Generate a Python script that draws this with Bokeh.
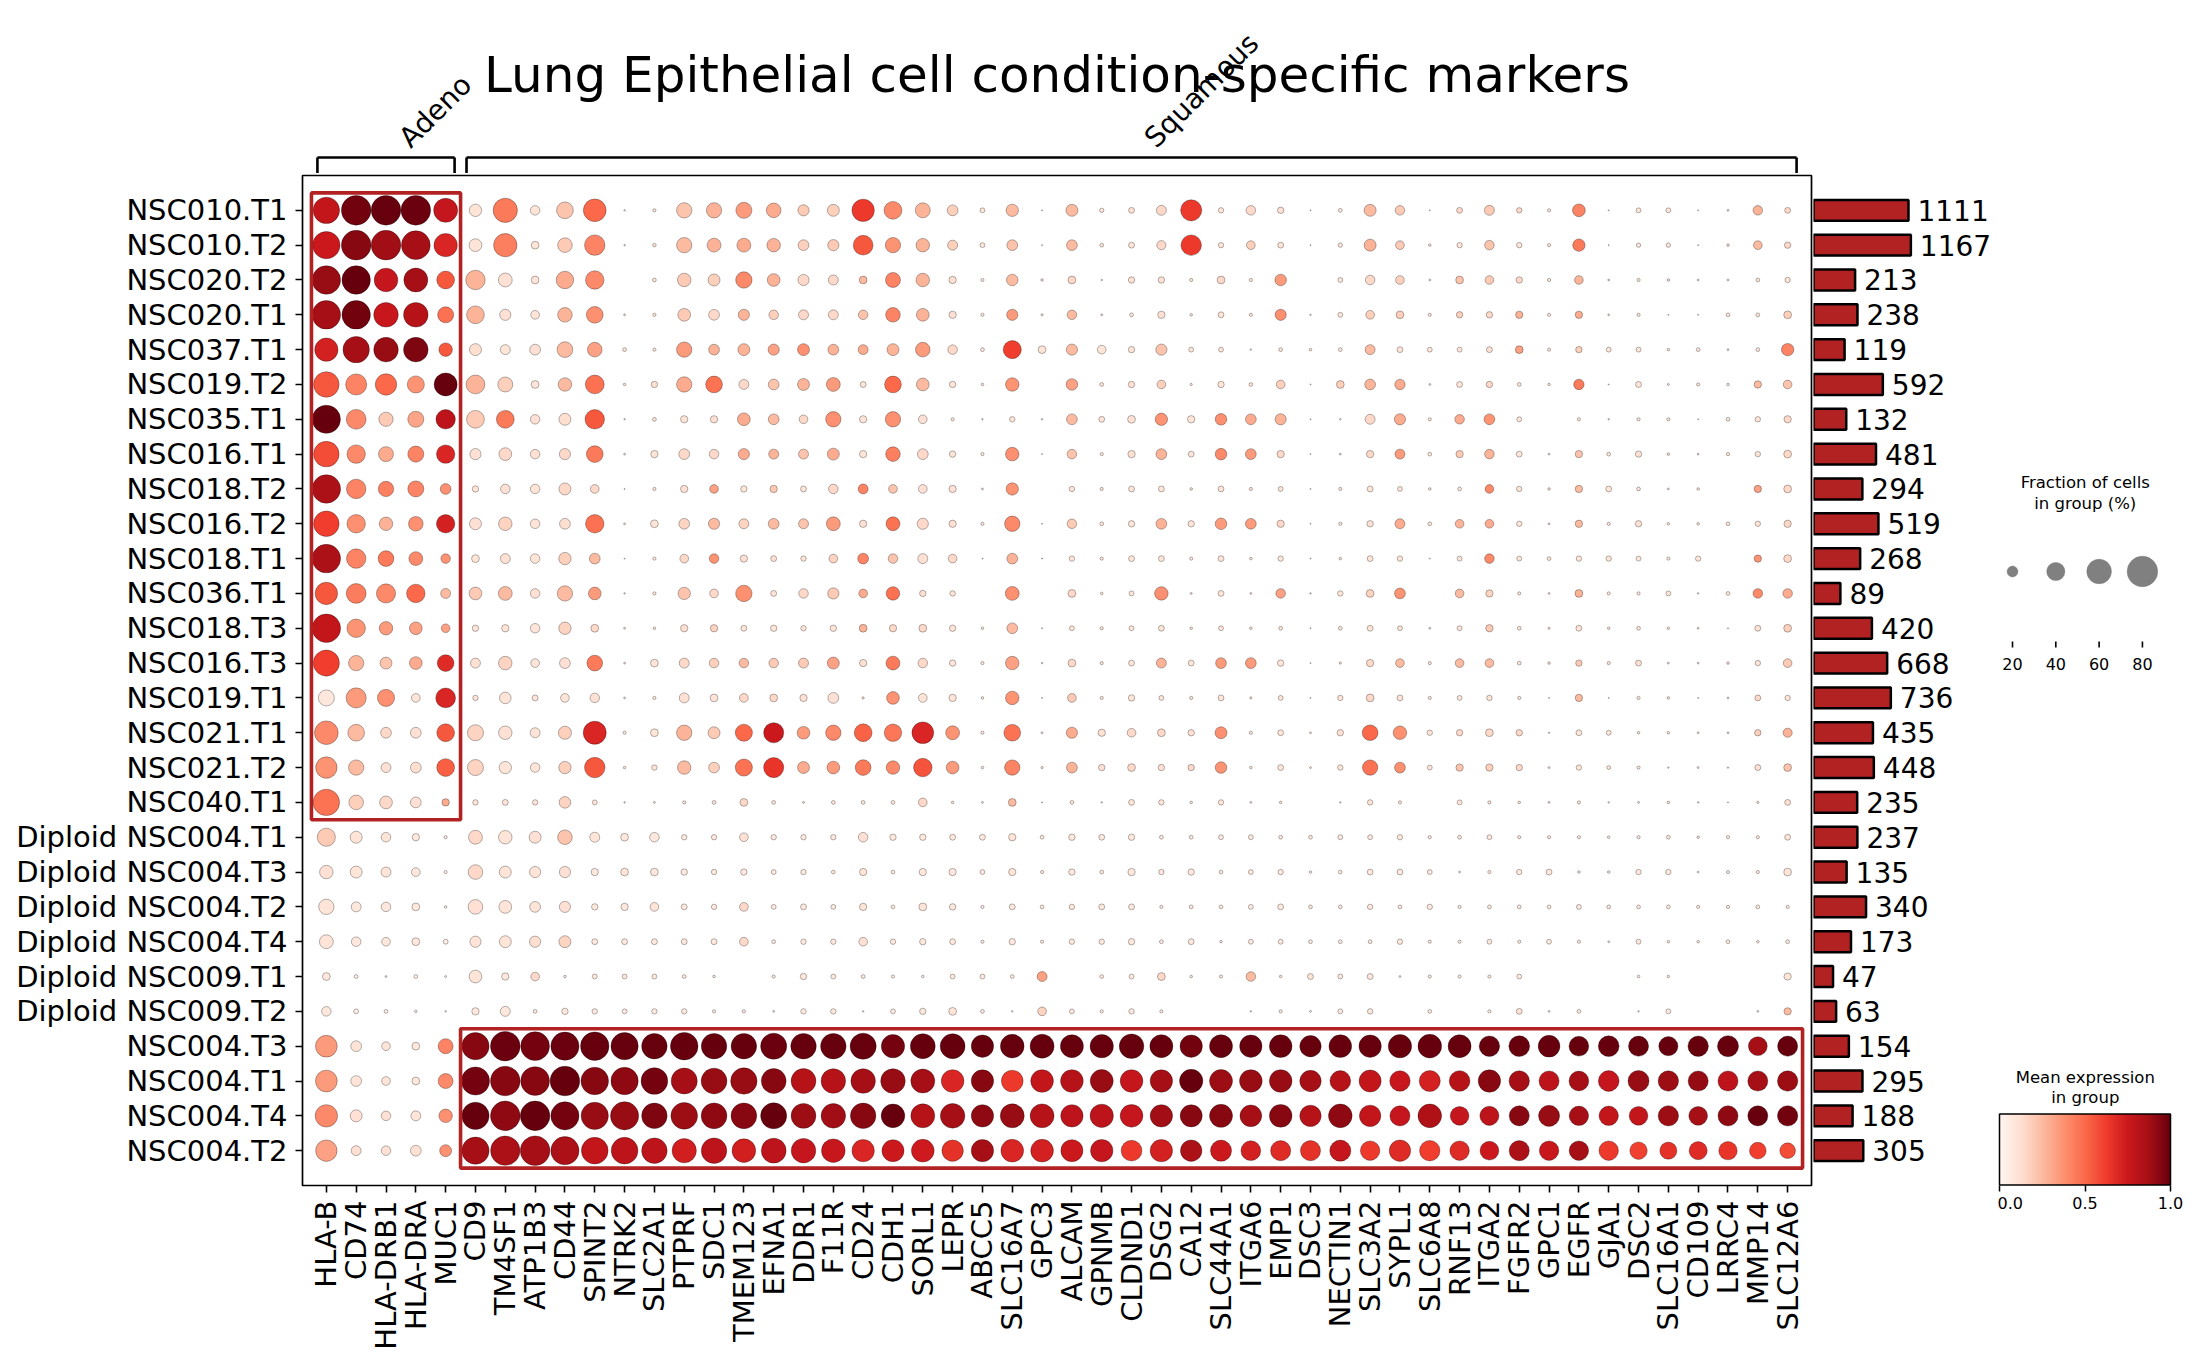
import math
import numpy as np
from bokeh.plotting import figure
from bokeh.layouts import column, row
from bokeh.models import (ColumnDataSource, Range1d, FixedTicker, LinearColorMapper,
                          ColorBar, PrintfTickFormatter)
from bokeh.transform import transform
from bokeh.core.properties import value
from bokeh.palettes import Reds9
from bokeh.embed import file_html
from bokeh.resources import INLINE

FONT = "DejaVu Sans"

title = "Lung Epithelial cell condition-specific markers"

adeno_genes = ["HLA-B", "CD74", "HLA-DRB1", "HLA-DRA", "MUC1"]
squamous_genes = ["CD9", "TM4SF1", "ATP1B3", "CD44", "SPINT2", "NTRK2", "SLC2A1", "PTPRF",
                  "SDC1", "TMEM123", "EFNA1", "DDR1", "F11R", "CD24", "CDH1", "SORL1", "LEPR",
                  "ABCC5", "SLC16A7", "GPC3", "ALCAM", "GPNMB", "CLDND1", "DSG2", "CA12",
                  "SLC44A1", "ITGA6", "EMP1", "DSC3", "NECTIN1", "SLC3A2", "SYPL1", "SLC6A8",
                  "RNF13", "ITGA2", "FGFR2", "GPC1", "EGFR", "GJA1", "DSC2", "SLC16A1", "CD109",
                  "LRRC4", "MMP14", "SLC12A6"]

groups = ["NSC010.T1", "NSC010.T2", "NSC020.T2", "NSC020.T1", "NSC037.T1", "NSC019.T2",
          "NSC035.T1", "NSC016.T1", "NSC018.T2", "NSC016.T2", "NSC018.T1", "NSC036.T1",
          "NSC018.T3", "NSC016.T3", "NSC019.T1", "NSC021.T1", "NSC021.T2", "NSC040.T1",
          "Diploid NSC004.T1", "Diploid NSC004.T3", "Diploid NSC004.T2", "Diploid NSC004.T4",
          "Diploid NSC009.T1", "Diploid NSC009.T2", "NSC004.T3", "NSC004.T1", "NSC004.T4",
          "NSC004.T2"]

cell_counts = [1111, 1167, 213, 238, 119, 592, 132, 481, 294, 519, 268, 89, 420, 668, 736,
               435, 448, 235, 237, 135, 340, 173, 47, 63, 154, 295, 188, 305]

# fraction of cells (%) expressing, one row per group
frac_adeno = [
    [66, 77, 77, 77, 58], [69, 77, 77, 74, 56], [73, 73, 57, 58, 39], [73, 73, 60, 60, 34],
    [56, 66, 60, 60, 27], [63, 49, 50, 37, 55], [72, 45, 29, 34, 44], [63, 41, 31, 34, 41],
    [73, 44, 32, 34, 20], [63, 41, 27, 30, 41], [73, 44, 33, 28, 17], [53, 45, 43, 41, 18],
    [73, 41, 27, 25, 15], [65, 32, 23, 25, 36], [34, 46, 37, 15, 45], [57, 36, 20, 20, 39],
    [50, 32, 18, 20, 39], [66, 30, 25, 20, 12], [40, 23, 17, 12, 4], [27, 23, 18, 15, 4],
    [32, 18, 17, 13, 3], [28, 17, 15, 13, 7], [13, 5, 2, 5, 2], [17, 7, 5, 3, 1.5],
    [51, 20, 15, 13, 31], [51, 20, 15, 13, 31], [53, 23, 17, 18, 27], [50, 18, 17, 20, 23],
]

frac_squamous = [
    [24, 59, 17, 36, 54, 1.5, 4, 32, 32, 34, 30, 21, 23, 53, 39, 31, 20, 7, 24, 1, 23, 6, 9, 18, 49, 8, 17, 10, 1, 5, 23, 17, 1, 9, 18, 8, 4, 25, 1, 7, 7, 1, 2, 17, 9],
    [25, 56, 13, 30, 47, 1.5, 4.5, 32, 28, 28, 27, 20, 21, 45, 32, 27, 18, 7, 20, 1, 20, 5, 9, 16, 47, 8, 15, 9, 1, 6, 23, 15, 3, 8, 17, 8, 4, 24, 1, 6, 6, 1, 3, 15, 10],
    [44, 28, 13, 38, 41, 0, 5, 27, 23, 35, 25, 21, 18, 13, 31, 27, 12, 4, 22, 3, 13, 1.5, 10, 10, 4, 13, 4, 22, 0, 7, 17, 15, 2, 13, 15, 10, 4, 15, 2, 4, 3, 2, 2, 5, 8],
    [39, 21, 15, 30, 36, 2, 4, 25, 20, 21, 17, 18, 18, 17, 30, 25, 12, 4, 21, 2.5, 17, 2, 5, 12, 3, 9, 4, 21, 1.5, 7, 15, 13, 4, 10, 10, 12, 4, 12, 2, 4, 1, 1, 5, 5, 13],
    [23, 18, 20, 33, 30, 5, 4, 32, 20, 23, 21, 23, 20, 18, 23, 30, 17, 5, 40, 13, 21, 15, 10, 21, 7, 7, 1.5, 5, 3, 5, 18, 9, 7, 7, 9, 13, 4, 10, 7, 7, 3, 5, 2, 5, 24],
    [42, 31, 13, 27, 42, 3, 10, 32, 36, 18, 20, 23, 28, 9, 36, 25, 10, 3, 27, 0, 22, 5, 10, 15, 2.5, 10, 5, 15, 1, 13, 20, 19, 2, 9, 10, 5, 3, 19, 1, 9, 2, 4, 3, 12, 15],
    [39, 39, 17, 23, 44, 1.5, 5, 12, 12, 25, 20, 15, 32, 12, 32, 15, 4, 1.5, 8, 1.5, 20, 9, 13, 24, 12, 22, 20, 21, 1, 1.5, 18, 21, 4, 17, 20, 7, 0, 4, 1.5, 4, 4, 1, 5, 8, 12],
    [21, 25, 17, 21, 36, 2, 12, 20, 17, 21, 18, 18, 23, 12, 30, 20, 10, 4, 27, 1, 17, 4, 12, 20, 9, 22, 20, 12, 1, 2, 12, 18, 5, 12, 17, 9, 2, 12, 5, 10, 3, 2, 4, 8, 13],
    [10, 17, 17, 23, 15, 1, 4, 12, 15, 10, 12, 9, 17, 18, 15, 15, 12, 2, 24, 0, 8, 4, 9, 9, 3, 9, 4, 7, 1, 4, 9, 7, 3, 5, 15, 8, 3, 12, 9, 5, 2, 3, 0, 12, 13],
    [23, 27, 17, 20, 41, 2, 13, 20, 21, 18, 20, 18, 28, 12, 28, 21, 12, 4, 32, 1, 17, 5, 10, 20, 10, 22, 20, 12, 1, 4, 10, 18, 5, 15, 15, 8, 2, 12, 4, 10, 3, 3, 5, 8, 12],
    [13, 18, 17, 24, 20, 1, 4, 15, 17, 12, 9, 8, 15, 20, 17, 18, 15, 1, 20, 1, 8, 4, 9, 9, 4, 9, 3, 8, 1, 3, 9, 8, 1, 7, 17, 7, 5, 8, 8, 7, 4, 8, 0, 12, 13],
    [25, 28, 17, 32, 25, 1.5, 4, 24, 15, 35, 9, 17, 21, 15, 27, 10, 8, 0, 28, 0, 13, 3, 7, 27, 2, 9, 2, 17, 1.5, 8, 13, 20, 0, 15, 12, 4, 2, 13, 4, 4, 7, 1.5, 5, 17, 17],
    [10, 12, 17, 24, 13, 2, 3, 12, 12, 9, 10, 8, 10, 13, 12, 13, 10, 3, 20, 1, 7, 4, 7, 9, 3, 7, 3, 5, 1, 5, 9, 7, 2, 7, 12, 5, 2.5, 9, 3, 5, 3, 2, 1, 9, 13],
    [18, 27, 15, 20, 33, 2, 13, 18, 17, 17, 17, 18, 23, 12, 28, 17, 10, 4, 27, 1.5, 13, 4, 9, 18, 9, 20, 20, 10, 1, 2.5, 12, 15, 4, 15, 15, 5, 3, 10, 4, 9, 2, 2, 3, 8, 15],
    [8, 22, 9, 15, 17, 2, 4, 18, 13, 15, 13, 12, 20, 2.5, 25, 15, 12, 3, 27, 1, 15, 4, 10, 7, 4, 9, 2.5, 7, 1, 8, 13, 9, 4, 7, 8, 4, 1, 12, 1, 4, 3, 1, 2, 9, 8],
    [34, 27, 18, 26, 55, 4, 13, 32, 23, 37, 46, 25, 32, 39, 38, 51, 28, 4, 36, 2, 21, 12, 15, 13, 10, 23, 4, 9, 2, 10, 33, 27, 8, 10, 13, 10, 1.5, 9, 7, 3, 3, 2, 2, 10, 16],
    [34, 24, 17, 24, 47, 3, 8, 27, 20, 37, 46, 23, 25, 33, 27, 41, 25, 3, 32, 2.5, 20, 10, 13, 10, 10, 22, 3, 9, 2, 8, 32, 20, 7, 12, 12, 10, 2, 8, 5, 4, 1.5, 2, 1.5, 9, 13],
    [8, 9, 8, 22, 7, 1.5, 2, 4, 5, 13, 5, 2, 5, 5, 5, 15, 3, 2, 13, 1, 5, 1.5, 9, 8, 3, 8, 2, 3, 0, 1.5, 8, 4, 0, 7, 4, 3, 2, 4, 1.5, 2, 3, 1.5, 1, 2.5, 9],
    [28, 27, 23, 30, 18, 13, 17, 8, 8, 15, 8, 8, 8, 17, 10, 10, 9, 9, 12, 5, 10, 9, 10, 5, 5, 7, 7, 5, 5, 7, 7, 8, 4, 5, 7, 4, 4, 4, 3, 4, 5, 3, 4, 4, 9],
    [30, 23, 21, 21, 12, 13, 13, 10, 8, 10, 7, 8, 5, 12, 5, 12, 12, 7, 12, 4, 10, 5, 12, 8, 10, 5, 7, 8, 3, 5, 9, 9, 7, 2, 4, 8, 9, 3, 3, 8, 8, 2, 4, 4, 13],
    [30, 25, 20, 21, 10, 12, 15, 9, 8, 15, 7, 9, 7, 12, 5, 13, 10, 4, 9, 5, 8, 9, 9, 4, 5, 5, 7, 9, 5, 5, 8, 5, 8, 4, 5, 5, 5, 7, 5, 5, 5, 4, 4, 5, 4],
    [21, 23, 21, 23, 9, 9, 9, 9, 9, 15, 5, 8, 8, 15, 8, 10, 9, 4, 10, 4, 8, 8, 10, 5, 9, 3, 7, 7, 5, 5, 5, 8, 4, 4, 7, 4, 7, 4, 2, 7, 3, 3, 5, 3, 5],
    [25, 12, 15, 3, 7, 7, 7, 5, 3, 0, 4, 10, 7, 5, 4, 3, 7, 7, 5, 18, 0, 5, 7, 13, 3, 4, 17, 3, 9, 7, 9, 2, 4, 4, 4, 7, 0, 0, 0, 3, 3, 0, 0, 0, 12],
    [12, 18, 5, 10, 8, 7, 8, 8, 4, 4, 2, 8, 8, 1.5, 7, 10, 13, 5, 1.5, 15, 7, 4, 8, 4, 0, 0, 1.5, 4, 2, 7, 8, 0, 5, 0, 4, 9, 2, 5, 0, 1.5, 7, 0, 0, 2, 12],
    [69, 77, 74, 72, 73, 69, 63, 70, 63, 63, 65, 63, 63, 65, 56, 61, 61, 53, 57, 58, 55, 56, 60, 55, 53, 55, 53, 54, 50, 54, 53, 56, 57, 55, 47, 48, 51, 45, 48, 46, 43, 47, 49, 42, 46],
    [72, 77, 74, 77, 70, 69, 67, 65, 64, 66, 61, 61, 60, 60, 60, 58, 54, 53, 51, 54, 54, 55, 54, 53, 56, 55, 54, 54, 50, 48, 52, 47, 49, 48, 53, 47, 46, 45, 48, 49, 47, 46, 46, 46, 47],
    [69, 77, 77, 72, 69, 72, 63, 67, 64, 64, 65, 61, 60, 63, 57, 58, 60, 53, 58, 58, 53, 56, 54, 53, 52, 55, 51, 54, 50, 57, 50, 46, 57, 42, 43, 46, 49, 44, 44, 42, 47, 42, 46, 46, 47],
    [69, 76, 77, 72, 67, 67, 63, 59, 63, 57, 61, 60, 57, 53, 52, 54, 50, 53, 54, 54, 52, 53, 48, 53, 50, 49, 45, 46, 46, 49, 44, 50, 47, 44, 42, 46, 44, 44, 44, 38, 37, 40, 41, 36, 33],
]

# mean expression in group (scaled 0-1 per gene)
expr_adeno = [
    [0.78, 0.98, 1.0, 0.99, 0.77], [0.75, 0.93, 0.88, 0.87, 0.70], [0.90, 1.0, 0.77, 0.87, 0.55],
    [0.87, 0.98, 0.76, 0.82, 0.48], [0.72, 0.87, 0.90, 0.95, 0.55], [0.55, 0.42, 0.50, 0.37, 1.0],
    [1.0, 0.40, 0.20, 0.32, 0.80], [0.58, 0.40, 0.30, 0.42, 0.70], [0.85, 0.42, 0.43, 0.42, 0.38],
    [0.62, 0.38, 0.28, 0.38, 0.72], [0.85, 0.42, 0.45, 0.40, 0.37], [0.55, 0.44, 0.40, 0.50, 0.25],
    [0.78, 0.37, 0.35, 0.33, 0.33], [0.62, 0.27, 0.22, 0.30, 0.68], [0.08, 0.35, 0.38, 0.10, 0.70],
    [0.40, 0.25, 0.15, 0.12, 0.55], [0.37, 0.25, 0.12, 0.13, 0.53], [0.47, 0.18, 0.15, 0.12, 0.30],
    [0.20, 0.10, 0.10, 0.08, 0.05], [0.12, 0.10, 0.10, 0.08, 0.05], [0.10, 0.08, 0.08, 0.08, 0.05],
    [0.10, 0.08, 0.08, 0.08, 0.05], [0.08, 0.05, 0.05, 0.05, 0.05], [0.08, 0.05, 0.05, 0.05, 0.05],
    [0.35, 0.10, 0.10, 0.08, 0.42], [0.35, 0.10, 0.10, 0.08, 0.40], [0.40, 0.12, 0.12, 0.10, 0.38],
    [0.33, 0.12, 0.12, 0.12, 0.38],
]

expr_squamous = [
    [0.10, 0.45, 0.10, 0.22, 0.50, 0.10, 0.10, 0.22, 0.28, 0.35, 0.30, 0.20, 0.18, 0.63, 0.40, 0.27, 0.18, 0.10, 0.25, 0.10, 0.25, 0.10, 0.12, 0.15, 0.63, 0.10, 0.15, 0.12, 0.10, 0.10, 0.25, 0.20, 0.10, 0.15, 0.20, 0.15, 0.10, 0.42, 0.10, 0.10, 0.10, 0.10, 0.10, 0.28, 0.15],
    [0.10, 0.43, 0.10, 0.20, 0.42, 0.10, 0.10, 0.25, 0.28, 0.30, 0.28, 0.18, 0.20, 0.55, 0.37, 0.27, 0.18, 0.10, 0.23, 0.10, 0.25, 0.10, 0.10, 0.15, 0.63, 0.10, 0.18, 0.10, 0.10, 0.10, 0.28, 0.20, 0.10, 0.10, 0.22, 0.10, 0.10, 0.45, 0.10, 0.10, 0.10, 0.10, 0.10, 0.25, 0.15],
    [0.27, 0.12, 0.10, 0.30, 0.40, 0.00, 0.10, 0.20, 0.18, 0.40, 0.28, 0.15, 0.15, 0.25, 0.42, 0.27, 0.12, 0.10, 0.25, 0.10, 0.15, 0.10, 0.12, 0.12, 0.10, 0.15, 0.10, 0.35, 0.00, 0.10, 0.15, 0.18, 0.10, 0.22, 0.20, 0.15, 0.10, 0.27, 0.10, 0.10, 0.10, 0.10, 0.10, 0.10, 0.10],
    [0.27, 0.12, 0.10, 0.27, 0.38, 0.10, 0.10, 0.20, 0.15, 0.27, 0.18, 0.15, 0.15, 0.22, 0.42, 0.28, 0.12, 0.10, 0.35, 0.10, 0.25, 0.10, 0.10, 0.12, 0.10, 0.10, 0.10, 0.38, 0.10, 0.10, 0.18, 0.18, 0.10, 0.18, 0.15, 0.28, 0.10, 0.30, 0.10, 0.10, 0.10, 0.10, 0.10, 0.10, 0.18],
    [0.13, 0.10, 0.12, 0.25, 0.33, 0.10, 0.10, 0.35, 0.28, 0.28, 0.33, 0.38, 0.28, 0.30, 0.27, 0.35, 0.15, 0.10, 0.62, 0.10, 0.25, 0.10, 0.10, 0.22, 0.10, 0.10, 0.10, 0.10, 0.10, 0.10, 0.25, 0.10, 0.10, 0.10, 0.12, 0.33, 0.10, 0.18, 0.10, 0.10, 0.10, 0.10, 0.10, 0.10, 0.42],
    [0.27, 0.18, 0.10, 0.25, 0.48, 0.10, 0.12, 0.30, 0.47, 0.15, 0.22, 0.27, 0.35, 0.10, 0.50, 0.25, 0.10, 0.10, 0.37, 0.00, 0.33, 0.10, 0.12, 0.18, 0.10, 0.10, 0.10, 0.18, 0.10, 0.18, 0.27, 0.30, 0.10, 0.10, 0.15, 0.10, 0.10, 0.45, 0.10, 0.10, 0.10, 0.10, 0.10, 0.25, 0.22],
    [0.20, 0.45, 0.12, 0.13, 0.55, 0.10, 0.10, 0.10, 0.12, 0.30, 0.25, 0.15, 0.38, 0.10, 0.38, 0.12, 0.10, 0.10, 0.10, 0.10, 0.25, 0.10, 0.12, 0.37, 0.10, 0.38, 0.30, 0.27, 0.10, 0.10, 0.15, 0.30, 0.10, 0.30, 0.37, 0.10, 0.00, 0.10, 0.10, 0.10, 0.10, 0.10, 0.10, 0.10, 0.15],
    [0.12, 0.15, 0.12, 0.15, 0.45, 0.10, 0.10, 0.15, 0.15, 0.30, 0.27, 0.22, 0.30, 0.10, 0.43, 0.15, 0.10, 0.10, 0.38, 0.10, 0.22, 0.10, 0.12, 0.27, 0.10, 0.40, 0.35, 0.15, 0.10, 0.10, 0.15, 0.35, 0.10, 0.20, 0.27, 0.10, 0.10, 0.22, 0.10, 0.12, 0.10, 0.10, 0.10, 0.10, 0.15],
    [0.10, 0.12, 0.10, 0.15, 0.15, 0.10, 0.10, 0.12, 0.33, 0.10, 0.20, 0.10, 0.15, 0.42, 0.22, 0.12, 0.12, 0.10, 0.37, 0.00, 0.10, 0.10, 0.10, 0.10, 0.10, 0.10, 0.10, 0.10, 0.10, 0.10, 0.10, 0.10, 0.10, 0.10, 0.40, 0.10, 0.10, 0.25, 0.10, 0.10, 0.10, 0.10, 0.00, 0.33, 0.15],
    [0.12, 0.17, 0.10, 0.13, 0.48, 0.10, 0.10, 0.17, 0.25, 0.17, 0.25, 0.22, 0.35, 0.12, 0.47, 0.15, 0.12, 0.10, 0.40, 0.10, 0.20, 0.10, 0.10, 0.28, 0.10, 0.35, 0.35, 0.15, 0.10, 0.10, 0.12, 0.30, 0.10, 0.27, 0.30, 0.10, 0.10, 0.25, 0.10, 0.12, 0.10, 0.10, 0.10, 0.10, 0.15],
    [0.10, 0.12, 0.10, 0.18, 0.25, 0.10, 0.10, 0.15, 0.37, 0.12, 0.12, 0.10, 0.17, 0.42, 0.22, 0.12, 0.15, 0.10, 0.28, 0.10, 0.10, 0.10, 0.10, 0.10, 0.10, 0.10, 0.10, 0.10, 0.10, 0.10, 0.10, 0.10, 0.10, 0.10, 0.40, 0.10, 0.10, 0.10, 0.10, 0.10, 0.10, 0.10, 0.00, 0.37, 0.15],
    [0.20, 0.25, 0.12, 0.25, 0.35, 0.10, 0.10, 0.22, 0.15, 0.38, 0.10, 0.15, 0.20, 0.30, 0.48, 0.12, 0.10, 0.00, 0.38, 0.00, 0.15, 0.10, 0.10, 0.38, 0.10, 0.10, 0.10, 0.33, 0.10, 0.10, 0.17, 0.37, 0.00, 0.25, 0.17, 0.10, 0.10, 0.27, 0.10, 0.10, 0.10, 0.10, 0.10, 0.40, 0.30],
    [0.10, 0.10, 0.10, 0.17, 0.15, 0.10, 0.10, 0.12, 0.17, 0.10, 0.10, 0.10, 0.10, 0.27, 0.15, 0.15, 0.10, 0.10, 0.25, 0.10, 0.10, 0.10, 0.10, 0.10, 0.10, 0.10, 0.10, 0.10, 0.10, 0.10, 0.10, 0.10, 0.10, 0.10, 0.20, 0.10, 0.10, 0.10, 0.10, 0.10, 0.10, 0.10, 0.10, 0.12, 0.18],
    [0.12, 0.17, 0.10, 0.12, 0.45, 0.10, 0.10, 0.15, 0.18, 0.25, 0.20, 0.20, 0.33, 0.12, 0.45, 0.15, 0.10, 0.10, 0.33, 0.10, 0.15, 0.10, 0.10, 0.28, 0.10, 0.35, 0.35, 0.10, 0.10, 0.10, 0.15, 0.25, 0.10, 0.25, 0.25, 0.10, 0.10, 0.20, 0.10, 0.12, 0.10, 0.10, 0.10, 0.10, 0.20],
    [0.10, 0.10, 0.10, 0.10, 0.12, 0.10, 0.10, 0.12, 0.10, 0.15, 0.15, 0.12, 0.12, 0.10, 0.37, 0.10, 0.10, 0.10, 0.37, 0.10, 0.20, 0.10, 0.10, 0.10, 0.10, 0.10, 0.10, 0.10, 0.10, 0.10, 0.15, 0.10, 0.10, 0.10, 0.10, 0.10, 0.10, 0.25, 0.10, 0.10, 0.10, 0.10, 0.10, 0.15, 0.10],
    [0.17, 0.12, 0.10, 0.18, 0.70, 0.10, 0.10, 0.27, 0.20, 0.50, 0.75, 0.35, 0.40, 0.52, 0.46, 0.70, 0.37, 0.10, 0.47, 0.10, 0.30, 0.12, 0.15, 0.15, 0.12, 0.38, 0.10, 0.10, 0.10, 0.12, 0.50, 0.38, 0.10, 0.15, 0.15, 0.15, 0.10, 0.10, 0.10, 0.10, 0.10, 0.10, 0.10, 0.18, 0.28],
    [0.17, 0.10, 0.10, 0.18, 0.55, 0.10, 0.10, 0.25, 0.18, 0.47, 0.65, 0.30, 0.35, 0.45, 0.40, 0.56, 0.35, 0.10, 0.42, 0.10, 0.27, 0.12, 0.15, 0.12, 0.15, 0.37, 0.10, 0.10, 0.10, 0.10, 0.47, 0.38, 0.10, 0.22, 0.18, 0.15, 0.10, 0.10, 0.10, 0.10, 0.10, 0.10, 0.10, 0.12, 0.22],
    [0.10, 0.10, 0.10, 0.17, 0.10, 0.10, 0.10, 0.10, 0.10, 0.15, 0.10, 0.10, 0.10, 0.10, 0.10, 0.15, 0.10, 0.10, 0.25, 0.10, 0.10, 0.10, 0.10, 0.10, 0.10, 0.10, 0.10, 0.10, 0.00, 0.10, 0.10, 0.10, 0.00, 0.10, 0.10, 0.10, 0.10, 0.10, 0.10, 0.10, 0.10, 0.10, 0.10, 0.10, 0.12],
    [0.15, 0.10, 0.12, 0.22, 0.10, 0.08, 0.08, 0.08, 0.08, 0.12, 0.08, 0.08, 0.08, 0.12, 0.08, 0.08, 0.08, 0.08, 0.10, 0.08, 0.08, 0.08, 0.08, 0.08, 0.08, 0.08, 0.08, 0.08, 0.08, 0.08, 0.08, 0.08, 0.08, 0.08, 0.08, 0.08, 0.08, 0.08, 0.08, 0.08, 0.08, 0.08, 0.08, 0.08, 0.10],
    [0.15, 0.10, 0.10, 0.12, 0.08, 0.10, 0.08, 0.08, 0.08, 0.08, 0.08, 0.08, 0.08, 0.10, 0.08, 0.08, 0.08, 0.08, 0.10, 0.08, 0.08, 0.08, 0.08, 0.08, 0.08, 0.08, 0.08, 0.08, 0.08, 0.08, 0.08, 0.08, 0.08, 0.08, 0.08, 0.08, 0.08, 0.08, 0.08, 0.08, 0.08, 0.08, 0.08, 0.08, 0.10],
    [0.12, 0.10, 0.10, 0.12, 0.08, 0.08, 0.10, 0.08, 0.08, 0.15, 0.08, 0.08, 0.08, 0.10, 0.08, 0.10, 0.08, 0.08, 0.08, 0.08, 0.08, 0.08, 0.08, 0.08, 0.08, 0.08, 0.08, 0.08, 0.08, 0.08, 0.08, 0.08, 0.08, 0.08, 0.08, 0.08, 0.08, 0.08, 0.08, 0.08, 0.08, 0.08, 0.08, 0.08, 0.08],
    [0.10, 0.10, 0.13, 0.17, 0.08, 0.08, 0.08, 0.08, 0.08, 0.15, 0.08, 0.08, 0.08, 0.12, 0.08, 0.08, 0.08, 0.08, 0.08, 0.08, 0.08, 0.08, 0.08, 0.08, 0.08, 0.08, 0.08, 0.08, 0.08, 0.08, 0.08, 0.08, 0.08, 0.08, 0.08, 0.08, 0.08, 0.08, 0.08, 0.08, 0.08, 0.08, 0.08, 0.08, 0.08],
    [0.10, 0.08, 0.15, 0.05, 0.08, 0.08, 0.08, 0.08, 0.08, 0.00, 0.08, 0.08, 0.08, 0.08, 0.08, 0.08, 0.08, 0.08, 0.08, 0.33, 0.00, 0.08, 0.08, 0.15, 0.08, 0.08, 0.25, 0.08, 0.10, 0.08, 0.08, 0.08, 0.08, 0.08, 0.08, 0.08, 0.00, 0.00, 0.00, 0.08, 0.08, 0.00, 0.00, 0.00, 0.10],
    [0.08, 0.08, 0.08, 0.08, 0.08, 0.08, 0.08, 0.08, 0.08, 0.08, 0.08, 0.08, 0.08, 0.08, 0.08, 0.08, 0.10, 0.08, 0.08, 0.17, 0.08, 0.08, 0.08, 0.08, 0.00, 0.00, 0.08, 0.08, 0.08, 0.08, 0.08, 0.00, 0.08, 0.00, 0.08, 0.12, 0.08, 0.08, 0.00, 0.08, 0.08, 0.00, 0.00, 0.08, 0.25],
    [0.93, 0.99, 0.97, 0.99, 1.00, 1.00, 1.00, 1.00, 1.00, 1.00, 0.99, 1.00, 1.00, 1.00, 0.97, 1.00, 1.00, 1.00, 1.00, 1.00, 1.00, 1.00, 1.00, 1.00, 0.98, 1.00, 1.00, 1.00, 1.00, 1.00, 1.00, 1.00, 1.00, 1.00, 1.00, 1.00, 1.00, 1.00, 1.00, 1.00, 1.00, 1.00, 1.00, 0.87, 1.00],
    [0.97, 0.93, 0.93, 1.00, 0.93, 0.92, 0.97, 0.87, 0.90, 0.90, 0.93, 0.82, 0.82, 0.87, 0.90, 0.87, 0.70, 0.93, 0.63, 0.78, 0.82, 0.90, 0.77, 0.87, 1.00, 0.89, 0.90, 0.90, 0.87, 0.82, 0.78, 0.76, 0.72, 0.82, 0.93, 0.87, 0.80, 0.87, 0.77, 0.90, 0.89, 0.91, 0.80, 0.87, 0.89],
    [1.00, 0.92, 1.00, 0.97, 0.90, 0.90, 0.95, 0.89, 0.92, 0.93, 1.00, 0.89, 0.88, 0.93, 1.00, 0.82, 0.87, 0.92, 0.90, 0.82, 0.80, 0.80, 0.77, 0.88, 0.93, 0.93, 0.87, 0.93, 0.82, 0.92, 0.78, 0.77, 0.84, 0.77, 0.80, 0.93, 0.90, 0.87, 0.78, 0.78, 0.89, 0.87, 0.92, 1.00, 0.98],
    [0.87, 0.85, 0.87, 0.85, 0.78, 0.80, 0.80, 0.73, 0.80, 0.73, 0.80, 0.77, 0.76, 0.70, 0.75, 0.74, 0.66, 0.87, 0.70, 0.72, 0.75, 0.77, 0.63, 0.72, 0.85, 0.75, 0.72, 0.68, 0.66, 0.77, 0.63, 0.68, 0.62, 0.68, 0.75, 0.85, 0.76, 0.87, 0.63, 0.61, 0.66, 0.68, 0.65, 0.62, 0.58],
]

legend_fracs = [20, 40, 60, 80]
cbar_ticks = [0.0, 0.5, 1.0]

genes = adeno_genes + squamous_genes
n_genes = len(genes)
n_groups = len(groups)

# scanpy-like dot scaling: area ~ (frac / dot_max) ** 1.5
DOT_MAX = 80.0
LARGEST = 30.5


def dot_size(f):
    f = np.clip(np.asarray(f, dtype=float), 0, DOT_MAX)
    return LARGEST * (f / DOT_MAX) ** 0.75


# matplotlib-like "Reds" colormap, light -> dark
anchors = np.array([[int(c[i:i + 2], 16) for i in (1, 3, 5)] for c in Reds9[::-1]], dtype=float)
pos = np.linspace(0, 1, len(anchors))
t = np.linspace(0, 1, 256)
rgb = np.stack([np.interp(t, pos, anchors[:, k]) for k in range(3)], axis=1)
reds = ["#%02x%02x%02x" % tuple(int(round(v)) for v in c) for c in rgb]
mapper = LinearColorMapper(palette=reds, low=0, high=1)

xs, ys, fr, ex = [], [], [], []
for r in range(n_groups):
    frow = frac_adeno[r] + frac_squamous[r]
    erow = expr_adeno[r] + expr_squamous[r]
    for c in range(n_genes):
        if frow[c] > 0:
            xs.append(c)
            ys.append(r)
            fr.append(frow[c])
            ex.append(erow[c])
src = ColumnDataSource(dict(x=xs, y=ys, frac=fr, expr=ex, size=dot_size(fr)))

# page layout (px)
TOP_H = 173
LEFT = 302
MAIN_W = 1813
ROW_H = 1184
BORDER_T = 2
BORDER_B = 172

x_range = Range1d(-0.8, n_genes - 1 + 0.8)
y_range = Range1d(n_groups, -1)

# ---- main dot plot
main = figure(width=MAIN_W, height=ROW_H, x_range=x_range, y_range=y_range,
              output_backend="svg", toolbar_location=None, min_border=0,
              min_border_left=LEFT, min_border_right=2, min_border_top=BORDER_T,
              min_border_bottom=BORDER_B)
main.grid.visible = False
main.outline_line_color = "black"
main.outline_line_width = 1.7
main.background_fill_color = "white"

main.xaxis.ticker = FixedTicker(ticks=list(range(n_genes)))
main.xaxis.major_label_overrides = {i: g for i, g in enumerate(genes)}
main.xaxis.major_label_orientation = math.pi / 2
main.yaxis.ticker = FixedTicker(ticks=list(range(n_groups)))
main.yaxis.major_label_overrides = {i: g for i, g in enumerate(groups)}
for ax in (main.xaxis[0], main.yaxis[0]):
    ax.axis_line_color = None
    ax.major_tick_line_color = "black"
    ax.major_tick_line_width = 1.6
    ax.major_tick_out = 7
    ax.major_tick_in = 0
    ax.minor_tick_line_color = None
    ax.major_label_standoff = 8
    ax.major_label_text_font = FONT
    ax.major_label_text_font_size = "29px"
    ax.major_label_text_color = "black"

main.scatter(x="x", y="y", size="size", source=src,
             fill_color=transform("expr", mapper), line_color="black",
             line_width=0.5, line_alpha=0.6)

# highlight boxes: Adeno genes x adeno samples, Squamous genes x NSC004 samples
box_left = [-0.5, len(adeno_genes) - 0.5]
box_right = [len(adeno_genes) - 0.5, n_genes - 0.5]
box_top = [groups.index("NSC010.T1") - 0.5, groups.index("NSC004.T3") - 0.5]
box_bottom = [groups.index("NSC040.T1") + 0.5, groups.index("NSC004.T2") + 0.5]
main.quad(left=box_left, right=box_right, top=box_top, bottom=box_bottom,
          fill_color=None, line_color="#b22222", line_width=3.6)

# ---- brackets and title above
top = figure(width=MAIN_W, height=TOP_H, x_range=x_range, y_range=Range1d(TOP_H, 0),
             output_backend="svg", toolbar_location=None, min_border=0,
             min_border_left=LEFT, min_border_right=2,
             x_axis_type=None, y_axis_type=None, outline_line_color=None)
grp_names = ["Adeno", "Squamous"]
grp_start = [0, len(adeno_genes)]
grp_end = [len(adeno_genes) - 1, n_genes - 1]
bl = [s - 0.3 for s in grp_start]
br = [e + 0.3 for e in grp_end]
top.segment(x0=bl, y0=157, x1=br, y1=157, line_color="black", line_width=2.6)
top.segment(x0=bl + br, y0=157, x1=bl + br, y1=TOP_H + 1, line_color="black", line_width=2.6)
top.text(x=[(a + b) / 2 for a, b in zip(bl, br)], y=142, text=grp_names,
         angle=math.pi / 4, x_offset=18, text_align="left", text_baseline="alphabetic",
         text_font=value(FONT), text_font_size=value("28px"), text_color="black")
top.text(x=[(n_genes - 1) / 2], y=[74], text=[title], text_align="center",
         text_baseline="middle", text_font=value(FONT), text_font_size=value("50px"),
         text_color="black")

# ---- cell count bars
PX_PER_UNIT = 2.85
BARS_W = 184
bars = figure(width=BARS_W, height=ROW_H, x_range=Range1d(0, BARS_W / PX_PER_UNIT),
              y_range=y_range, output_backend="svg", toolbar_location=None, min_border=0,
              min_border_top=BORDER_T, min_border_bottom=BORDER_B,
              x_axis_type=None, y_axis_type=None, outline_line_color=None)
bar_len = np.sqrt(cell_counts)
bars.hbar(y=list(range(n_groups)), left=0, right=bar_len, height=0.6,
          fill_color="#b22222", line_color="black", line_width=2.5)
bars.text(x=bar_len, y=list(range(n_groups)), text=[str(c) for c in cell_counts],
          x_offset=9, text_baseline="middle", text_font=value(FONT),
          text_font_size=value("28px"), text_color="black")

# ---- legends (y in page pixels)
frame_top = TOP_H + BORDER_T
frame_bottom = TOP_H + ROW_H - BORDER_B
leg = figure(width=193, height=ROW_H, x_range=Range1d(13.07, 102.2),
             y_range=Range1d(frame_bottom, frame_top),
             output_backend="svg", toolbar_location=None, min_border=0,
             min_border_top=BORDER_T, min_border_bottom=BORDER_B,
             x_axis_type=None, y_axis_type=None, outline_line_color=None)
leg.text(x=[53.6, 53.6], y=[482, 503], text=["Fraction of cells", "in group (%)"],
         text_align="center", text_baseline="middle", text_font=value(FONT),
         text_font_size=value("16.5px"), text_color="black")
leg.scatter(x=legend_fracs, y=571, size=dot_size(legend_fracs),
            fill_color="#808080", line_color="#777777", line_width=0.5)
leg.segment(x0=legend_fracs, y0=641, x1=legend_fracs, y1=647, line_color="black", line_width=1.6)
leg.text(x=legend_fracs, y=663, text=[str(v) for v in legend_fracs], text_align="center",
         text_baseline="middle", text_font=value(FONT), text_font_size=value("16px"),
         text_color="black")
leg.text(x=[53.6, 53.6], y=[1077, 1097], text=["Mean expression", "in group"],
         text_align="center", text_baseline="middle", text_font=value(FONT),
         text_font_size=value("16.5px"), text_color="black")

cbar = ColorBar(color_mapper=mapper, orientation="horizontal", width=171, height=71,
                location=(2, -26.5), padding=0, margin=0,
                ticker=FixedTicker(ticks=cbar_ticks),
                formatter=PrintfTickFormatter(format="%.1f"),
                major_label_text_font=FONT, major_label_text_font_size="16px",
                major_label_text_color="black",
                bar_line_color="black", bar_line_width=1.5,
                major_tick_line_color="black", major_tick_line_width=1.5,
                major_tick_in=0, major_tick_out=6, minor_tick_line_color=None,
                label_standoff=6, background_fill_alpha=0, border_line_color=None)
leg.add_layout(cbar)

layout = column(top, row(main, bars, leg))
open("out.html", "w").write(file_html(layout, INLINE))
